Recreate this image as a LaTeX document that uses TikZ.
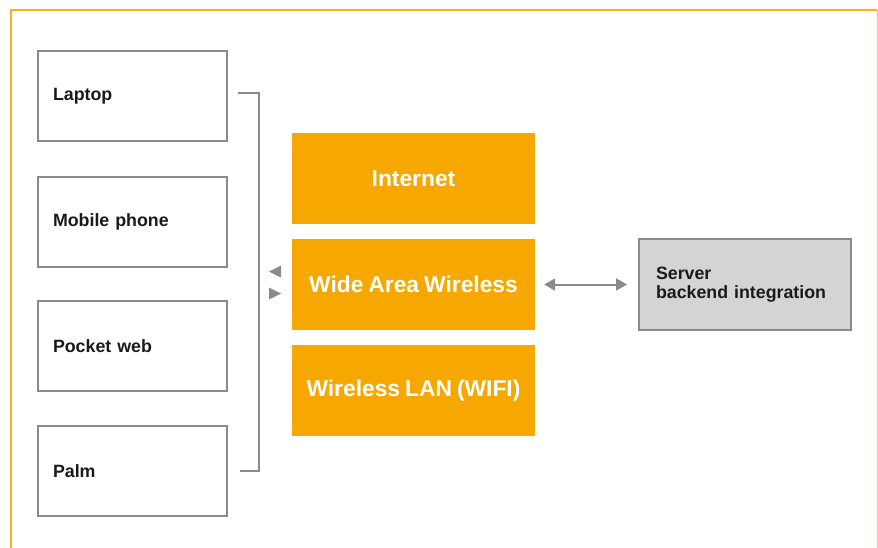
\documentclass[tikz,border=0pt]{standalone}
\usepackage{fontspec}
\setmainfont{Liberation Sans}[WordSpace=0.8]
\usetikzlibrary{arrows.meta}
\definecolor{orng}{HTML}{F7A800}
\definecolor{frameorng}{HTML}{F9B21A}
\definecolor{boxgray}{HTML}{8A8A8A}
\definecolor{srvfill}{HTML}{D4D4D6}
\definecolor{txt}{HTML}{1A1A1A}
\tikzset{
  devbox/.style={draw=boxgray, line width=2pt, fill=white, minimum width=189pt, minimum height=90pt,
    text width=159pt, inner xsep=15pt, align=left, font=\bfseries\fontsize{17.8}{19}\selectfont, text=txt},
  netbox/.style={fill=orng, minimum width=243pt, minimum height=91pt, inner sep=0pt,
    font=\bfseries\fontsize{22.8}{24}\selectfont, text=white},
  srvbox/.style={draw=boxgray, line width=2pt, fill=srvfill, minimum width=212pt, minimum height=91pt,
    text width=178pt, inner xsep=17pt, align=left, font=\bfseries\fontsize{17.8}{19}\selectfont, text=txt},
  bracket/.style={draw=boxgray, line width=1.8pt},
  dblarrow/.style={draw=boxgray, line width=2pt, {Triangle[length=11pt,width=12pt]}-{Triangle[length=11pt,width=12pt]}},
}
\begin{document}
\begin{tikzpicture}[x=1pt,y=-1pt]
\useasboundingbox (0,0) rectangle (878,547);
% frame
\draw[frameorng, line width=2.2pt] (11,548) -- (11,10) -- (877,10);
\draw[frameorng!70, line width=1pt] (877.5,10) -- (877.5,548);
% devices
\node[devbox] (laptop) at (132.5,96) {Laptop};
\node[devbox] (mobile) at (132.5,222) {Mobile phone};
\node[devbox] (pocket) at (132.5,346) {Pocket web};
\node[devbox] (palm) at (132.5,471) {Palm};
% bracket
\coordinate (btop) at (259,93);
\coordinate (bbot) at (259,471);
\draw[bracket] ([xshift=10pt]laptop.east |- btop) -- (btop) -- (bbot) -- ([xshift=12pt]palm.east |- bbot);
% network boxes
\node[netbox] (internet) at (413.5,178.5) {Internet};
\node[netbox] (wan) at (413.5,284.5) {Wide Area Wireless};
\node[netbox] (wlan) at (413.5,390.5) {Wireless LAN (WIFI)};
% small arrowheads
\fill[boxgray] (269,271.5) -- (281,265.5) -- (281,277.5) -- cycle;
\fill[boxgray] (281,293.5) -- (269,287.5) -- (269,299.5) -- cycle;
% server
\node[srvbox] (server) at (745,284.5) {Server\\backend integration};
\draw[dblarrow] ([xshift=9pt]wan.east) -- ([xshift=-11pt]server.west);
\end{tikzpicture}
\end{document}
